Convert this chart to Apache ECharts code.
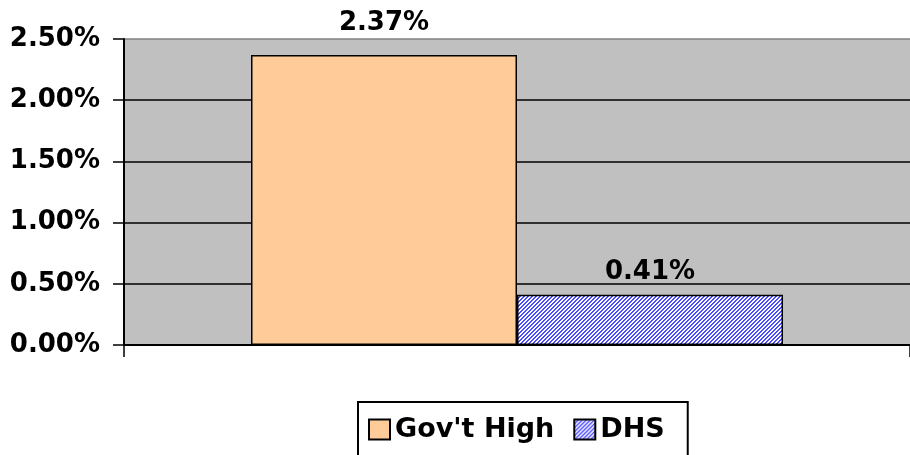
<!DOCTYPE html>
<html>
<head>
	<meta charset="UTF-8">
	<title>Gov't High vs DHS</title>
	<script src="https://cdn.jsdelivr.net/npm/echarts@6/dist/echarts.min.js"></script>
	<style>
		body { margin: 0; background: #fff; }
	</style>
</head>
<body>
	<div id="main" style="width: 910px; height: 455px;"></div>
	<script>
		// data
		var categories = ['']
		var seriesNames = ['Gov\'t High', 'DHS']
		var govHigh = [2.37]
		var dhs = [0.41]
		var yTicks = [0, 0.5, 1.0, 1.5, 2.0, 2.5]

		var FONT = 'DejaVu Sans'

		// blue diagonal hatch for DHS
		function hatch () {
			var c = document.createElement('canvas')
			c.width = 4
			c.height = 4
			var ctx = c.getContext('2d')
			ctx.fillStyle = '#ffffff'
			ctx.fillRect(0, 0, 4, 4)
			ctx.fillStyle = '#4a4aff'
			for (var i = 0; i < 4; i++) {
				ctx.fillRect(3 - i, i, 1, 1)
				ctx.fillRect((4 - i) % 4, i, 1, 1)
			}
			return c
		}

		var labelStyle = {
			show: true,
			position: 'top',
			fontFamily: FONT,
			fontWeight: 'bold',
			fontSize: 26,
			color: '#000',
			formatter: function (p) { return p.value.toFixed(2) + '%' }
		}

		var myChart = echarts.init(document.getElementById('main'))
		var option = {
			animation: false,
			grid: {
				left: 124,
				right: 0,
				top: 39,
				bottom: 110,
				show: true,
				backgroundColor: '#c0c0c0',
				borderWidth: 0
			},
			legend: {
				data: seriesNames,
				left: 358,
				top: 402,
				padding: [14, 23, 30, 10],
				borderColor: '#000',
				borderWidth: 2,
				itemWidth: 21,
				itemHeight: 20,
				itemGap: 19,
				icon: 'rect',
				textStyle: {
					fontFamily: FONT,
					fontWeight: 'bold',
					fontSize: 27,
					color: '#000'
				}
			},
			xAxis: {
				type: 'category',
				data: categories,
				axisLine: { lineStyle: { color: '#000', width: 2 } },
				axisTick: { show: true, length: 12, lineStyle: { color: '#000', width: 1.5 } },
				axisLabel: { show: false },
				splitLine: { show: false }
			},
			yAxis: {
				type: 'value',
				min: yTicks[0],
				max: yTicks[yTicks.length - 1],
				interval: 0.5,
				axisLine: { show: true, lineStyle: { color: '#000', width: 2 } },
				axisTick: { show: true, length: 11, lineStyle: { color: '#000', width: 1.5 } },
				axisLabel: {
					margin: 24,
					fontFamily: FONT,
					fontWeight: 'bold',
					fontSize: 26,
					color: '#000',
					formatter: function (v) { return v.toFixed(2) + '%' }
				},
				splitLine: {
					show: true,
					lineStyle: {
						color: ['#000', '#000', '#000', '#000', '#000', '#808080'],
						width: 1.5
					}
				}
			},
			series: [
				{
					name: seriesNames[0],
					type: 'bar',
					data: govHigh,
					barWidth: 266,
					barGap: '0%',
					itemStyle: { color: '#ffcc99', borderColor: '#000', borderWidth: 1.5 },
					label: Object.assign({}, labelStyle, { distance: 19 })
				},
				{
					name: seriesNames[1],
					type: 'bar',
					data: dhs,
					barWidth: 266,
					barGap: '0%',
					itemStyle: {
						color: { image: hatch(), repeat: 'repeat' },
						borderColor: '#000',
						borderWidth: 1.5
					},
					label: Object.assign({}, labelStyle, { distance: 10 })
				}
			]
		}
		myChart.setOption(option)
	</script>
</body>
</html>
